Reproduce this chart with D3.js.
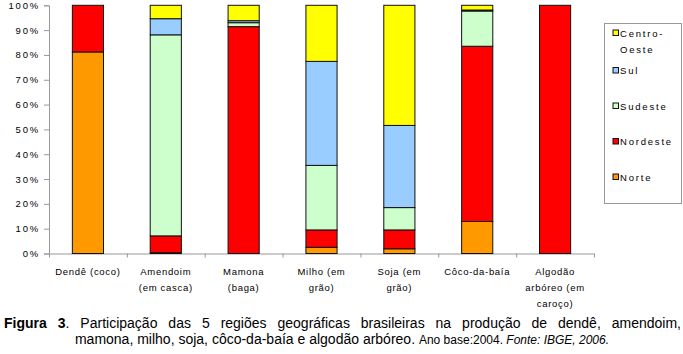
<!DOCTYPE html>
<html lang="pt">
<head>
    <meta charset="UTF-8">
    <title>Figura 3</title>
    <script src="https://d3js.org/d3.v7.min.js"></script>
    <style>
        body { margin: 0; background: #fff; }
        svg text { font-family: "Liberation Sans", Arial, sans-serif; fill: #000; }
        .lbl { font-size: 9.5px; letter-spacing: 0.7px; }
        .ytick { font-size: 9.5px; letter-spacing: 1.8px; }
        .leg { font-size: 9.5px; letter-spacing: 1.8px; }
    </style>
</head>
<body>
<svg width="683" height="354"></svg>
<script>

    // categorias (quebradas em linhas como no original)
    const categories = [
        ["Dendê (coco)"],
        ["Amendoim", "(em casca)"],
        ["Mamona", "(baga)"],
        ["Milho (em", "grão)"],
        ["Soja (em", "grão)"],
        ["Côco-da-baía"],
        ["Algodão", "arbóreo (em", "caroço)"]
    ];
    const regions = ["Norte", "Nordeste", "Sudeste", "Sul", "Centro-Oeste"];
    const colors  = ["#FF9900", "#FF0000", "#CCFFCC", "#99CCFF", "#FFFF00"];

    // participação (%) por região
    const norte       = [81.2,  0.3,  0.0,  2.5,  1.9, 12.9,   0];
    const nordeste    = [18.8,  6.8, 91.4,  7.0,  7.6, 70.6, 100];
    const sudeste     = [ 0.0, 81.0,  1.6, 26.0,  9.0, 14.2,   0];
    const sul         = [ 0.0,  6.5,  0.8, 41.9, 33.1,  0.4,   0];
    const centroOeste = [ 0.0,  5.4,  6.2, 22.6, 48.4,  1.9,   0];

    const yTicks = [0, 10, 20, 30, 40, 50, 60, 70, 80, 90, 100];

    const svg = d3.select("svg");
    const x0 = 49, x1 = 594, yTop = 5.3, yBottom = 253.5;

    const names = categories.map(c => c.join(" "));
    const rows = names.map((n, i) => ({
        name: n,
        Norte: norte[i], Nordeste: nordeste[i], Sudeste: sudeste[i],
        Sul: sul[i], "Centro-Oeste": centroOeste[i]
    }));
    const series = d3.stack().keys(regions)(rows);

    const x = d3.scaleBand().domain(names).range([x0, x1])
        .paddingInner(0.6).paddingOuter(0.3);
    const y = d3.scaleLinear().domain([0, 100]).range([yBottom, yTop]);
    const color = d3.scaleOrdinal().domain(regions).range(colors);

    // eixo y
    const gy = svg.append("g")
        .attr("transform", `translate(${x0},0)`)
        .call(d3.axisLeft(y).tickValues(yTicks).tickSize(5).tickPadding(4).tickFormat(d => d + "%"));
    gy.attr("font-size", null).attr("font-family", null);
    gy.selectAll("text").attr("class", "ytick");
    gy.selectAll("path, line").attr("stroke", "#999");

    // eixo x (marcas entre categorias)
    const xb = d3.scaleLinear().domain([0, categories.length]).range([x0, x1]);
    const gx = svg.append("g")
        .attr("transform", `translate(0,${yBottom})`)
        .call(d3.axisBottom(xb).ticks(categories.length).tickSize(4).tickSizeOuter(0).tickFormat(""));
    gx.selectAll("path, line").attr("stroke", "#999");

    // barras
    svg.append("g")
        .selectAll("g")
        .data(series)
        .join("g")
        .attr("fill", d => color(d.key))
        .selectAll("rect")
        .data(d => d.filter(s => s[1] - s[0] > 0))
        .join("rect")
        .attr("x", d => x(d.data.name))
        .attr("width", x.bandwidth())
        .attr("y", d => y(d[1]))
        .attr("height", d => y(d[0]) - y(d[1]))
        .attr("stroke", "#111")
        .attr("stroke-width", 1);

    // rótulos das categorias
    svg.append("g")
        .selectAll("text")
        .data(categories)
        .join("text")
        .attr("class", "lbl")
        .attr("text-anchor", "middle")
        .attr("x", (d, i) => x(names[i]) + x.bandwidth() / 2)
        .attr("y", 275)
        .selectAll("tspan")
        .data(d => d)
        .join("tspan")
        .attr("x", function () { return this.parentNode.getAttribute("x"); })
        .attr("dy", (d, i) => i === 0 ? 0 : 16)
        .text(d => d);

    // legenda
    const legend = svg.append("g");
    legend.append("rect")
        .attr("x", 604.5).attr("y", 23.5).attr("width", 77).attr("height", 180)
        .attr("fill", "#fff").attr("stroke", "#999");
    const legendItems = regions.slice().reverse();
    const ly = d3.scalePoint().domain(legendItems).range([35, 177]);
    const li = legend.selectAll("g.item")
        .data(legendItems)
        .join("g")
        .attr("class", "item")
        .attr("transform", d => `translate(613,${ly(d) - (d === "Centro-Oeste" ? 2 : 0)})`);
    li.append("rect")
        .attr("x", 0).attr("y", -3).attr("width", 5.5).attr("height", 5.5)
        .attr("fill", d => color(d)).attr("stroke", "#111").attr("stroke-width", 1);
    li.append("text")
        .attr("class", "leg")
        .attr("x", 7).attr("y", 3.5)
        .selectAll("tspan")
        .data(d => d === "Centro-Oeste" ? ["Centro-", "Oeste"] : [d])
        .join("tspan")
        .attr("x", 7)
        .attr("dy", (d, i) => i === 0 ? 0 : 16)
        .text(d => d);

    // legenda da figura (linha 1 justificada)
    const cap = svg.append("text")
        .attr("text-anchor", "middle")
        .style("font-size", "14px");
    const l1 = cap.append("tspan").attr("x", 342.5).attr("y", 328);
    l1.append("tspan").attr("font-weight", "bold").text("Figura 3");
    l1.append("tspan").text(". Participação das 5 regiões geográficas brasileiras na produção de dendê, amendoim,");
    const w1 = l1.node().getComputedTextLength();
    const nSpaces = l1.text().split(" ").length - 1;
    l1.style("word-spacing", ((677 - w1) / nSpaces) + "px");

    const l2 = cap.append("tspan").attr("x", 342).attr("y", 344);
    l2.append("tspan").text("mamona, milho, soja, côco-da-baía e algodão arbóreo. ");
    l2.append("tspan").style("font-size", "12px").text("Ano base:2004. ");
    l2.append("tspan").style("font-size", "12px").attr("font-style", "italic").text("Fonte:  IBGE, 2006.");

</script>
</body>
</html>
